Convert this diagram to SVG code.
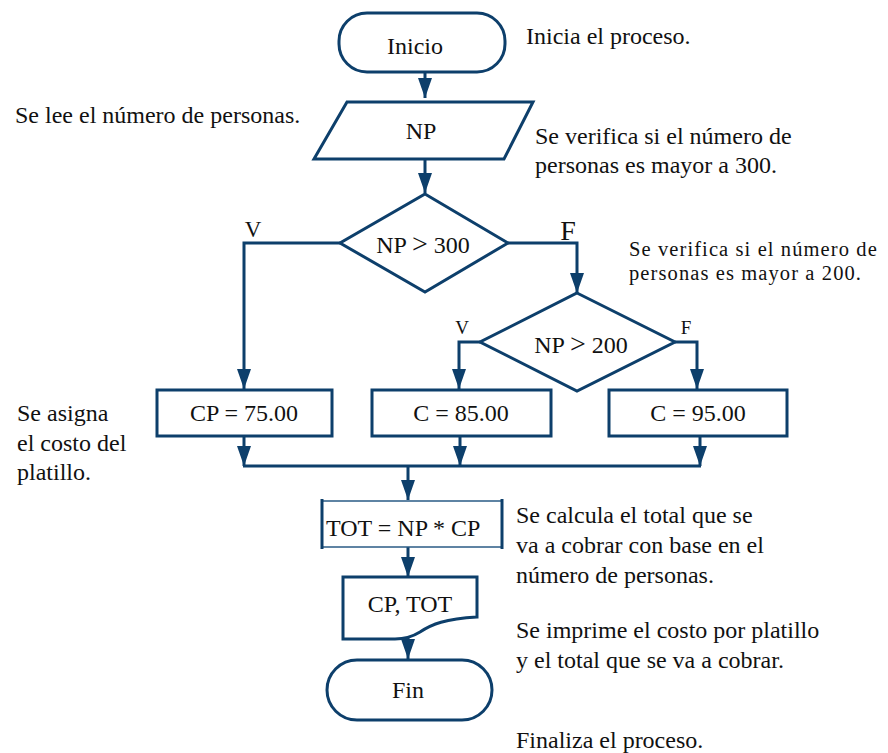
<svg xmlns="http://www.w3.org/2000/svg" width="888" height="753" viewBox="0 0 888 753">
  <defs>
    <marker id="arrow" viewBox="0 0 20 14" refX="20" refY="7" markerWidth="20" markerHeight="14" markerUnits="userSpaceOnUse" orient="auto">
      <path d="M0,0 L20,7 L0,14 Z" fill="#0d3f6b"/>
    </marker>
    <style>
      .shape { fill: #ffffff; stroke: #0d3f6b; stroke-width: 3; }
      .line { fill: none; stroke: #0d3f6b; stroke-width: 3; }
      .label { font-family: "Liberation Serif", "Times New Roman", serif; font-size: 24px; fill: #111111; text-anchor: middle; }
      .note { font-family: "Liberation Serif", "Times New Roman", serif; font-size: 24px; fill: #111111; }
      .small { font-size: 20.5px; letter-spacing: 1.1px; }
      .gt { font-size: 28px; }
      .vf { font-family: "Liberation Serif", "Times New Roman", serif; fill: #111111; text-anchor: middle; }
    </style>
  </defs>
  <rect width="888" height="753" fill="#ffffff"/>

  <!-- connectors -->
  <g id="connectors">
    <line class="line" x1="425" y1="73" x2="425" y2="98" marker-end="url(#arrow)"/>
    <line class="line" x1="425" y1="159" x2="425" y2="193" marker-end="url(#arrow)"/>
    <!-- NP > 300 : V branch -->
    <polyline class="line" points="340,243 244,243 244,389" marker-end="url(#arrow)"/>
    <!-- NP > 300 : F branch -->
    <polyline class="line" points="508,243 577,243 577,293" marker-end="url(#arrow)"/>
    <!-- NP > 200 branches -->
    <polyline class="line" points="480,342 459,342 459,389" marker-end="url(#arrow)"/>
    <polyline class="line" points="675,342 697,342 697,389" marker-end="url(#arrow)"/>
    <!-- merge -->
    <line class="line" x1="244" y1="436" x2="244" y2="466" marker-end="url(#arrow)"/>
    <line class="line" x1="460" y1="436" x2="460" y2="466" marker-end="url(#arrow)"/>
    <line class="line" x1="700" y1="436" x2="700" y2="466" marker-end="url(#arrow)"/>
    <line class="line" x1="243" y1="466" x2="701" y2="466"/>
    <line class="line" x1="408" y1="466" x2="408" y2="500" marker-end="url(#arrow)"/>
    <line class="line" x1="408" y1="547" x2="408" y2="577" marker-end="url(#arrow)"/>
    <line class="line" x1="408" y1="634" x2="408" y2="659" marker-end="url(#arrow)"/>
    <text class="vf" x="253" y="237" font-size="23">V</text>
    <text class="vf" x="568" y="240" font-size="28">F</text>
    <text class="vf" x="462" y="334" font-size="19">V</text>
    <text class="vf" x="686" y="334" font-size="19">F</text>
  </g>

  <g id="inicio">
    <rect class="shape" x="339" y="13" width="166" height="59" rx="28" ry="28"/>
    <text class="label" x="415" y="54">Inicio</text>
  </g>

  <g id="leer-np">
    <polygon class="shape" points="347,102 533,102 504,159 314,159"/>
    <text class="label" x="421" y="139">NP</text>
  </g>

  <g id="decision-300">
    <polygon class="shape" points="425,194 508,243 425,292 340,243"/>
    <text class="label" x="423" y="253">NP <tspan class="gt">&gt;</tspan> 300</text>
  </g>

  <g id="decision-200">
    <polygon class="shape" points="577,293 675,342 577,391 480,342"/>
    <text class="label" x="581" y="353">NP <tspan class="gt">&gt;</tspan> 200</text>
  </g>

  <g id="cp-75">
    <rect class="shape" x="157" y="390" width="175" height="46"/>
    <text class="label" x="244" y="421">CP = 75.00</text>
  </g>

  <g id="c-85">
    <rect class="shape" x="372" y="390" width="179" height="46"/>
    <text class="label" x="461" y="421">C = 85.00</text>
  </g>

  <g id="c-95">
    <rect class="shape" x="609" y="390" width="178" height="46"/>
    <text class="label" x="698" y="421">C = 95.00</text>
  </g>

  <g id="total">
    <rect x="322" y="501" width="180" height="46" fill="#ffffff" stroke="#2a5b85" stroke-width="1.5"/>
    <line class="line" x1="322" y1="499" x2="322" y2="549"/>
    <line class="line" x1="502" y1="499" x2="502" y2="549"/>
    <text class="label" x="326" y="536" style="text-anchor:start">TOT = NP * CP</text>
  </g>

  <g id="imprimir">
    <path class="shape" d="M343,577 L477,577 L477,617 C445,619 432,624 420,632 C412,637 405,639 395,639 L343,639 Z"/>
    <text class="label" x="410" y="612">CP, TOT</text>
  </g>

  <g id="fin">
    <rect class="shape" x="327" y="660" width="165" height="60" rx="30" ry="30"/>
    <text class="label" x="408" y="698">Fin</text>
  </g>

  <!-- side notes -->
  <g id="notas">
    <text class="note" x="526" y="44">Inicia el proceso.</text>
    <text class="note" x="15" y="123">Se lee el número de personas.</text>
    <text class="note" x="535" y="144">Se verifica si el número de</text>
    <text class="note" x="535" y="173">personas es mayor a 300.</text>
    <text class="note small" x="629" y="256">Se verifica si el número de</text>
    <text class="note small" x="629" y="280">personas es mayor a 200.</text>
    <text class="note" x="17" y="421">Se asigna</text>
    <text class="note" x="17" y="451">el costo del</text>
    <text class="note" x="17" y="480">platillo.</text>
    <text class="note" x="516" y="523">Se calcula el total que se</text>
    <text class="note" x="516" y="553">va a cobrar con base en el</text>
    <text class="note" x="516" y="583">número de personas.</text>
    <text class="note" x="516" y="638">Se imprime el costo por platillo</text>
    <text class="note" x="516" y="668">y el total que se va a cobrar.</text>
    <text class="note" x="516" y="748">Finaliza el proceso.</text>
  </g>
</svg>
